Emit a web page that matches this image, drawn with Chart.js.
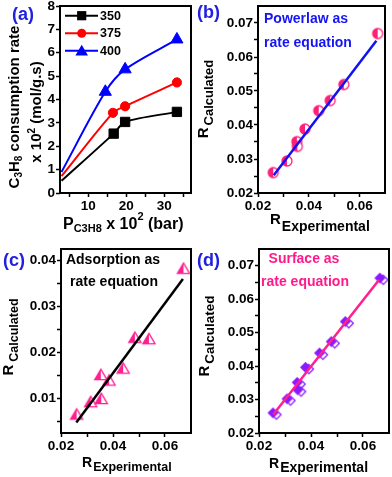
<!DOCTYPE html>
<html lang="en">
<head>
<meta charset="utf-8"/>
<title>C3H8 consumption rate and rate equation parity plots</title>
<script src="https://cdn.jsdelivr.net/npm/chart.js"></script>
<style>
  body{margin:0;background:#fff;font-family:"Liberation Sans",Arial,sans-serif}
  #fig{position:relative;width:392px;height:477px;overflow:hidden;background:#fff}
  canvas{position:absolute}
  .t{position:absolute;font-weight:700;line-height:1;white-space:nowrap;color:#000;z-index:2}
  .rot{transform:translate(-50%,-50%) rotate(-90deg)}
  .ctr{transform:translateX(-50%)}
  .tag{font-size:18px;color:#2020e0}
  .sub{position:relative}
  .blue{color:#1414f5}
  .pink{color:#ff1a8c}
</style>
</head>
<body>
<div id="fig">
  <canvas id="cA"></canvas>
  <canvas id="cB"></canvas>
  <canvas id="cC"></canvas>
  <canvas id="cD"></canvas>

  <div class="t tag" style="left:12px;top:5px">(a)</div>
  <div class="t tag" style="left:197px;top:3px">(b)</div>
  <div class="t tag" style="left:3px;top:251px">(c)</div>
  <div class="t tag" style="left:197px;top:251px">(d)</div>

  <!-- (a) axis titles -->
  <div class="t rot" style="left:13px;top:107px;font-size:15px">C<span class="sub" style="font-size:10px;top:3px">3</span>H<span class="sub" style="font-size:10px;top:3px">8</span> consumption rate</div>
  <div class="t rot" style="left:35px;top:112px;font-size:15px">x 10<span class="sub" style="font-size:10px;top:-6px">2</span> (mol/g.s)</div>
  <div class="t" style="left:63px;top:216px;font-size:16px">P<span class="sub" style="font-size:11px;top:3px">C3H8</span> x 10<span class="sub" style="font-size:11px;top:-9px">2</span> (bar)</div>

  <!-- (b) -->
  <div class="t rot" style="left:202px;top:99px;font-size:15px">R<span class="sub" style="font-size:13px;top:5px;margin-left:2px">Calculated</span></div>
  <div class="t" style="left:270px;top:211px;font-size:15px">R<span class="sub" style="font-size:14px;top:7px;margin-left:1px">Experimental</span></div>
  <div class="t blue" style="left:264px;top:11px;font-size:14px">Powerlaw as</div>
  <div class="t blue" style="left:264px;top:35px;font-size:14px">rate equation</div>

  <!-- (c) -->
  <div class="t rot" style="left:8px;top:337px;font-size:15px">R<span class="sub" style="font-size:12.5px;top:5px;margin-left:3px">Calculated</span></div>
  <div class="t" style="left:82px;top:455px;font-size:14px">R<span class="sub" style="font-size:12.5px;top:4px;margin-left:1px">Experimental</span></div>
  <div class="t ctr" style="left:113px;top:252px;font-size:14px">Adsorption as</div>
  <div class="t ctr" style="left:114px;top:274px;font-size:14px">rate equation</div>

  <!-- (d) -->
  <div class="t rot" style="left:204px;top:336px;font-size:15px">R<span class="sub" style="font-size:13.5px;top:5px;margin-left:2px">Calculated</span></div>
  <div class="t" style="left:269px;top:456px;font-size:14px">R<span class="sub" style="font-size:14px;top:4px;margin-left:1px">Experimental</span></div>
  <div class="t ctr pink" style="left:304px;top:251px;font-size:14px">Surface as</div>
  <div class="t ctr pink" style="left:305px;top:274px;font-size:14px">rate equation</div>
</div>

<script>
// ---- panel (a): consumption rate vs pressure, three temperatures ----
const tempLabels = ['350', '375', '400'];
const p350 = [3, 16.7, 19.7, 33.3];
const r350 = [0.52, 2.54, 3.04, 3.47];
const p375 = [3, 16.5, 19.7, 33.3];
const r375 = [0.72, 3.43, 3.71, 4.73];
const p400 = [3, 14.5, 19.7, 33.3];
const r400 = [0.90, 4.33, 5.29, 6.57];
const aXTicks = [10, 20, 30];
const aXMinor = [5, 15, 25, 35];
const aYTicks = [0, 1, 2, 3, 4, 5, 6, 7, 8];

// ---- panels (b)-(d): calculated vs experimental rate ----
const rExp = [0.0260, 0.0314, 0.0353, 0.0355, 0.0385, 0.0439, 0.0484, 0.0538, 0.0671];
const rPowerlaw = [0.0260, 0.0294, 0.0351, 0.0337, 0.0388, 0.0442, 0.0472, 0.0519, 0.0669];
const rAdsorption = [0.0065, 0.0092, 0.0151, 0.0099, 0.0139, 0.0165, 0.0232, 0.0229, 0.0382];
const rSurface = [0.0258, 0.0300, 0.0349, 0.0327, 0.0394, 0.0437, 0.0471, 0.0531, 0.0661];
const fitPowerX = [0.0262, 0.0666], fitPowerY = [0.0252, 0.0648];
const fitAdsX = [0.0259, 0.0669], fitAdsY = [0.0048, 0.0360];
const fitSurfX = [0.0255, 0.0662], fitSurfY = [0.0255, 0.0658];
const rXTicks = [0.02, 0.04, 0.06];
const rXMinor = [0.03, 0.05];
const rYTicks = [0.02, 0.03, 0.04, 0.05, 0.06, 0.07];
const rYMinor = [0.025, 0.035, 0.045, 0.055, 0.065];
const adsYTicks = [0.01, 0.02, 0.03, 0.04];
const adsYMinor = [0.005, 0.015, 0.025, 0.035];

const FONT = '"Liberation Sans", Arial, sans-serif';
const YW = 45, XH = 30, PT = 20, PR = 12;

function place(id, area) {
  const c = document.getElementById(id);
  const left = area[0] - YW, top = area[1] - PT;
  c.width = area[2] + PR - left;
  c.height = area[3] + XH - top;
  c.style.left = left + 'px';
  c.style.top = top + 'px';
  return c;
}

function axis(pos, min, max, major, minor, fmt) {
  return {
    type: 'linear', position: pos, min: min, max: max,
    afterBuildTicks: s => { s.ticks = major.concat(minor).map(v => ({value: v})); },
    afterFit: s => { if (pos === 'left') s.width = YW; else s.height = XH; },
    grid: {drawOnChartArea: false, tickLength: 4, tickColor: '#000', tickWidth: 1.5},
    border: {display: false},
    ticks: {
      autoSkip: false, maxRotation: 0, padding: 1, color: '#000',
      font: {family: FONT, size: 13.5, weight: 'bold'},
      callback: (v, i) => i < major.length ? fmt(major[i]) : ''
    }
  };
}

const frame = {
  id: 'frame',
  afterDatasetsDraw(ch) {
    const a = ch.chartArea, g = ch.ctx;
    g.save(); g.strokeStyle = '#000'; g.lineWidth = 2;
    g.strokeRect(a.left, a.top, a.right - a.left, a.bottom - a.top);
    g.restore();
  }
};

function shapePath(g, shape, x, y, r) {
  g.beginPath();
  if (shape === 'circle') g.arc(x, y, r, 0, Math.PI * 2);
  else if (shape === 'rect') g.rect(x - r, y - r, 2 * r, 2 * r);
  else if (shape === 'triangle') { g.moveTo(x, y - r); g.lineTo(x + r * 1.05, y + r * 0.8); g.lineTo(x - r * 1.05, y + r * 0.8); }
  else { g.moveTo(x, y - r); g.lineTo(x + r, y); g.lineTo(x, y + r); g.lineTo(x - r, y); }
  g.closePath();
}

// half filled marker (filled left, open right) used in panels (b)-(d)
function halfMarker(shape, color, r) {
  const c = document.createElement('canvas');
  const s = Math.ceil(r * 2 + 8);
  c.width = c.height = s;
  const g = c.getContext('2d'), m = s / 2;
  g.lineWidth = 1.3; g.strokeStyle = color; g.fillStyle = color;
  if (shape === 'diamond') {
    shapePath(g, shape, m + 1.8, m + 1, r); g.fillStyle = '#fff'; g.fill(); g.stroke();
    shapePath(g, shape, m - 1.6, m - 0.8, r); g.fillStyle = color; g.fill(); g.stroke();
  } else {
    shapePath(g, shape, m, m, r); g.fillStyle = '#fff'; g.fill();
    g.save(); g.clip(); g.fillStyle = color; g.fillRect(0, 0, m, s); g.restore();
    shapePath(g, shape, m, m, r); g.stroke();
  }
  return c;
}

const zip = (xs, ys) => xs.map((x, i) => ({x: x, y: ys[i]}));

// ---------- (a) ----------
const aStyles = [
  {color: '#000000', style: 'rect', r: 6.6, lr: 4.6},
  {color: '#ff0000', style: 'circle', r: 4.6, lr: 4.5},
  {color: '#0000ff', style: 'triangle', r: 7, lr: 6}
];
const aData = [[p350, r350], [p375, r375], [p400, r400]];

const legendA = {
  id: 'legendA',
  afterDraw(ch) {
    const g = ch.ctx, a = ch.chartArea;
    const rows = [9.7, 27.3, 44.7];
    tempLabels.forEach((lab, i) => {
      const st = aStyles[i], y = a.top + rows[i];
      g.save();
      g.strokeStyle = st.color; g.fillStyle = st.color; g.lineWidth = 2;
      g.beginPath(); g.moveTo(a.left + 5, y); g.lineTo(a.left + 38, y); g.stroke();
      shapePath(g, st.style, a.left + 21.7, y, st.lr); g.fill();
      g.fillStyle = '#000'; g.font = 'bold 12.5px ' + FONT; g.textBaseline = 'middle';
      g.fillText(lab, a.left + 40, y + 0.5);
      g.restore();
    });
  }
};

new Chart(place('cA', [60, 6, 191, 193]), {
  type: 'line',
  data: {
    datasets: aData.map((d, i) => ({
      label: tempLabels[i],
      data: zip(d[0], d[1]),
      borderColor: aStyles[i].color,
      backgroundColor: aStyles[i].color,
      borderWidth: 2,
      tension: 0.3,
      pointStyle: aStyles[i].style,
      pointRadius: c => c.dataIndex === 0 ? 0 : aStyles[i].r,
      pointBorderWidth: 1
    }))
  },
  options: {
    responsive: false, animation: false, devicePixelRatio: 1,
    layout: {padding: {left: 0, top: PT, right: PR, bottom: 0}},
    plugins: {legend: {display: false}, tooltip: {enabled: false}},
    scales: {
      x: axis('bottom', 2.6, 37, aXTicks, aXMinor, v => String(v)),
      y: axis('left', 0, 8, aYTicks, [], v => String(v))
    }
  },
  plugins: [frame, legendA]
});

// ---------- (b)-(d) ----------
function parity(id, area, yMin, yMax, yTicks, yMinor, calc, fitX, fitY, lineColor, marker) {
  new Chart(place(id, area), {
    type: 'line',
    data: {
      datasets: [
        {data: zip(fitX, fitY), borderColor: lineColor, borderWidth: 2.5, pointRadius: 0, order: 0},
        {data: zip(rExp, calc), showLine: false, pointStyle: marker, pointRadius: 6, order: 1}
      ]
    },
    options: {
      responsive: false, animation: false, devicePixelRatio: 1,
      layout: {padding: {left: 0, top: PT, right: PR, bottom: 0}},
      plugins: {legend: {display: false}, tooltip: {enabled: false}},
      scales: {
        x: axis('bottom', 0.02, 0.07, rXTicks, rXMinor, v => v.toFixed(2)),
        y: axis('left', yMin, yMax, yTicks, yMinor, v => v.toFixed(2))
      }
    },
    plugins: [frame]
  });
}

parity('cB', [258, 6, 385, 193], 0.02, 0.075, rYTicks, rYMinor, rPowerlaw,
  fitPowerX, fitPowerY, '#1212f0', halfMarker('circle', '#ff1f78', 5));
parity('cC', [61, 249, 191, 433], 0.0025, 0.0425, adsYTicks, adsYMinor, rAdsorption,
  fitAdsX, fitAdsY, '#000000', halfMarker('triangle', '#ff1f8f', 5.8));
parity('cD', [259, 249, 389, 433], 0.02, 0.075, rYTicks, rYMinor, rSurface,
  fitSurfX, fitSurfY, '#ff2090', halfMarker('diamond', '#8c1aff', 4.6));
</script>
</body>
</html>
